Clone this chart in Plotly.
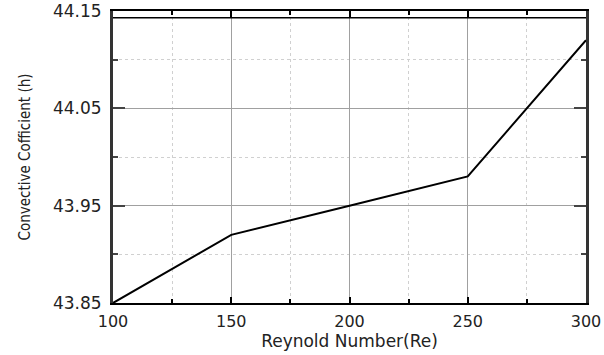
import plotly.graph_objects as go

reynolds = [100, 150, 200, 250, 300]
h_coeff = [43.85, 43.92, 43.95, 43.98, 44.12]
x_ticks = [100, 150, 200, 250, 300]
y_ticks = [43.85, 43.95, 44.05, 44.15]

fig = go.Figure()
fig.add_trace(go.Scatter(x=reynolds, y=h_coeff, mode="lines",
                         line=dict(color="black", width=2), showlegend=False))

font = "DejaVu Sans, Verdana, sans-serif"
fig.update_layout(
    width=604, height=355,
    margin=dict(l=113, r=18, t=11, b=52),
    paper_bgcolor="white", plot_bgcolor="white",
    font=dict(family=font, size=13, color="#222"),
)
fig.update_xaxes(
    range=[100, 300], tickvals=x_ticks, ticktext=[str(v) for v in x_ticks],
    showline=True, linecolor="black", linewidth=2, mirror="allticks",
    ticks="inside", ticklen=6, tickcolor="black", tickwidth=2,
    showgrid=True, gridcolor="#a0a0a0", gridwidth=1, zeroline=False,
    minor=dict(dtick=25, tick0=100, ticks="inside", ticklen=4, tickcolor="black",
               showgrid=True, gridcolor="#d0d0d0", griddash="dot", gridwidth=1),
    tickfont=dict(size=16, family=font), ticklabelstandoff=3,
    automargin=False,
    title=dict(text="Reynold Number(Re)", font=dict(size=17, family=font), standoff=0),
)
fig.update_yaxes(
    range=[43.85, 44.15], tickvals=y_ticks, ticktext=["%.2f" % v for v in y_ticks],
    showline=True, linecolor="#333", linewidth=3, mirror="allticks",
    ticks="inside", ticklen=12, tickcolor="#444", tickwidth=2,
    showgrid=True, gridcolor="#a0a0a0", gridwidth=1, zeroline=False,
    minor=dict(dtick=0.05, tick0=43.85, ticks="inside", ticklen=5, tickcolor="#444",
               showgrid=True, gridcolor="#d0d0d0", griddash="dot", gridwidth=1),
    tickfont=dict(size=17, family=font), ticklabelstandoff=5,
    automargin=False,
    title=dict(text="Convective Cofficient (h)",
               font=dict(size=15, family="DejaVu Sans Condensed, sans-serif"),
               standoff=19),
)
# extra horizontal line just below the top frame
fig.add_shape(type="line", xref="paper", yref="paper", x0=0, x1=1, y0=0.977, y1=0.977,
              line=dict(color="black", width=1.5))
fig.write_html("out.html", config={"displayModeBar": False},
               post_script="document.body.style.margin='0';")
